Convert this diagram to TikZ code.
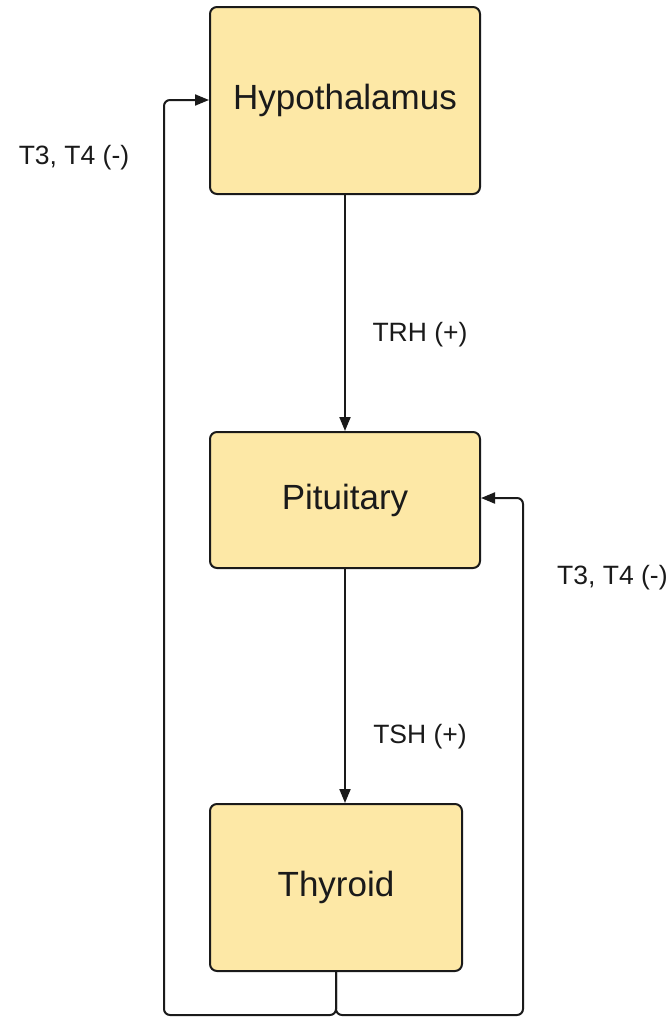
\documentclass[tikz,border=0pt]{standalone}
\usepackage{fontspec}
\setmainfont{Liberation Sans}
\usetikzlibrary{arrows.meta}
\definecolor{boxfill}{HTML}{FDE8A6}
\definecolor{ink}{HTML}{1A1A1A}
\tikzset{
  organ/.style={draw=ink, line width=2pt, fill=boxfill, rounded corners=7pt,
    text=ink, font=\fontsize{35}{41}\selectfont, inner sep=0pt},
  lbl/.style={text=ink, font=\fontsize{26.5}{32}\selectfont, inner sep=0pt},
  conn/.style={draw=ink, line width=2pt, rounded corners=6pt,
    -{Triangle[length=14pt,width=11pt]}},
}
\begin{document}
\begin{tikzpicture}[x=1pt,y=-1pt]
\useasboundingbox (0,0) rectangle (666,1018);
\clip (0,0) rectangle (666,1018);
\node[organ, minimum width=270pt, minimum height=187pt] (hyp) at (345,100.5) {Hypothalamus};
\node[organ, minimum width=270pt, minimum height=136pt] (pit) at (345,500) {Pituitary};
\node[organ, minimum width=252pt, minimum height=167pt] (thy) at (336,887.5) {Thyroid};
\draw[conn] (hyp.south -| 345,0) -- (pit.north -| 345,0);
\draw[conn] (pit.south -| 345,0) -- (thy.north -| 345,0);
\coordinate (bl) at (164,1015);
\coordinate (br) at (523,1015);
\draw[conn] (thy.south) -- (thy.south |- bl) -- (bl) -- (164,100) -- (hyp.west |- 0,100);
\draw[conn] (thy.south) -- (thy.south |- br) -- (br) -- (523,498) -- (pit.east |- 0,498);
\node[lbl] (trh) at (420,335) {TRH (+)};
\node[lbl] (tsh) at (420,737) {TSH (+)};
\node[lbl] (fbl) at (74,158) {T3, T4 (-)};
\node[lbl, anchor=west] (fbr) at (557,578) {T3, T4 (-)};
\end{tikzpicture}
\end{document}
